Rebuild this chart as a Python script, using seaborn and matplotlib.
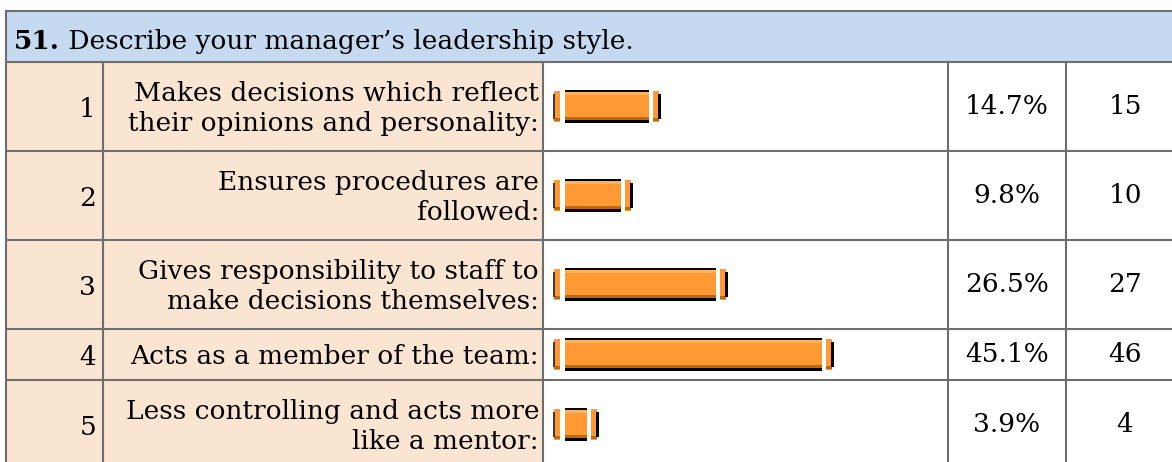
import numpy as np
import pandas as pd
import matplotlib
matplotlib.use("Agg")
import matplotlib.pyplot as plt
import seaborn as sns

question_no = "51."
question = " Describe your manager\u2019s leadership style."
option_nums = ["1", "2", "3", "4", "5"]
option_labels = [
    "Makes decisions which reflect\ntheir opinions and personality:",
    "Ensures procedures are\nfollowed:",
    "Gives responsibility to staff to\nmake decisions themselves:",
    "Acts as a member of the team:",
    "Less controlling and acts more\nlike a mentor:",
]
percents = [14.7, 9.8, 26.5, 45.1, 3.9]
counts = [15, 10, 27, 46, 4]

# layout (pixels)
W, H = 1172, 462
COLS = [6, 103, 543, 948, 1066, 1184]
TOP, HEAD_BOT = 11, 62
PX_PER_PCT = 5.7
BAR_START = 565
BAR_H = 33
FS = 19
FONT = "DejaVu Serif"

PEACH = "#FAE5D3"
BLUE = "#C5D9F1"
GRID = "#6E6E6E"
ORANGE = "#FF9933"
LIGHT = "#FFB25E"
DARK = "#C0660C"

sns.set_style("white")
plt.rcParams["font.family"] = [FONT, "DejaVu Sans"]
plt.rcParams["text.color"] = "black"

# row geometry depends on how many text lines the label has
row_h = [89 if "\n" in lab else 51 for lab in option_labels]
row_top = HEAD_BOT + np.concatenate([[0], np.cumsum(row_h)[:-1]])
row_mid = row_top + np.array(row_h) / 2

fig = plt.figure(figsize=(W / 100, H / 100), dpi=100)
ax = fig.add_axes([0, 0, 1, 1])
ax.set_xlim(0, W)
ax.set_ylim(H, 0)
ax.axis("off")

# header and label columns
ax.add_patch(plt.Rectangle((COLS[0], TOP), COLS[-1] - COLS[0], HEAD_BOT - TOP,
                           facecolor=BLUE, edgecolor="none"))
bottom = row_top[-1] + row_h[-1]
ax.add_patch(plt.Rectangle((COLS[0], HEAD_BOT), COLS[2] - COLS[0], bottom - HEAD_BOT,
                           facecolor=PEACH, edgecolor="none"))

lw = 1.5
ax.plot([COLS[0], COLS[-1]], [TOP, TOP], color=GRID, lw=lw)
ax.plot([COLS[0], COLS[-1]], [HEAD_BOT, HEAD_BOT], color=GRID, lw=lw)
for t in row_top[1:]:
    ax.plot([COLS[0], COLS[-1]], [t, t], color=GRID, lw=lw)
ax.plot([COLS[0], COLS[0]], [TOP, bottom], color=GRID, lw=lw)
for cx in COLS[1:-1]:
    ax.plot([cx, cx], [HEAD_BOT, bottom], color=GRID, lw=lw)

t1 = ax.text(14, 49, question_no, fontsize=FS, fontweight="bold", va="baseline", ha="left")
ax.annotate(question, xy=(1, 0), xycoords=t1, va="bottom", ha="left", fontsize=FS)

for i in range(len(option_nums)):
    m = row_mid[i]
    ax.text(COLS[1] - 7, m + 3, option_nums[i], fontsize=FS, ha="right", va="center")
    ax.text(COLS[2] - 4, m + 2, option_labels[i], fontsize=FS, ha="right", va="center",
            linespacing=1.24)
    ax.text((COLS[3] + COLS[4]) / 2, m, f"{percents[i]:.1f}%", fontsize=FS,
            ha="center", va="center")
    ax.text((COLS[4] + COLS[5]) / 2, m, str(counts[i]), fontsize=FS,
            ha="center", va="center")

# bar axes over the graph column
x0 = COLS[2] / W
bx = fig.add_axes([x0, 0, (COLS[3] - COLS[2]) / W, 1])
df = pd.DataFrame({"pct": percents, "row": row_mid})
sns.barplot(data=df, x="pct", y="row", orient="h", native_scale=True, color=ORANGE,
            saturation=1, linewidth=0, ax=bx)
for p in bx.patches:
    c = p.get_y() + p.get_height() / 2
    p.set_y(c - BAR_H / 2)
    p.set_height(BAR_H)

s = PX_PER_PCT
for pct, c in zip(df["pct"], df["row"]):
    top = c - BAR_H / 2
    bot = c + BAR_H / 2
    bx.barh(top + 1.0, pct, height=2, color="black", lw=0)
    bx.barh(top + 3.5, pct, height=3, color=LIGHT, lw=0)
    bx.barh(bot - 4.5, pct, height=3, color=DARK, lw=0)
    bx.barh(bot - 1.5, pct, height=3, color="black", lw=0)
    # left cap
    bx.barh(c, 6 / s, left=-11 / s, height=BAR_H - 2, color=ORANGE, lw=0)
    bx.barh(c + BAR_H / 2 - 3.5, 6 / s, left=-11 / s, height=3, color=DARK, lw=0)
    bx.barh(c, 2 / s, left=-12 / s, height=BAR_H - 8, color="#3A3A3A", lw=0)
    # right cap
    rx = pct + 4 / s
    bx.barh(c, 6 / s, left=rx, height=BAR_H - 2, color=ORANGE, lw=0)
    bx.barh(c + BAR_H / 2 - 3.5, 6 / s, left=rx, height=3, color=DARK, lw=0)
    bx.barh(c, 3 / s, left=rx + 5 / s, height=BAR_H - 8, color="black", lw=0)

bx.set_xlim(-(BAR_START - COLS[2]) / s, (COLS[3] - BAR_START) / s)
bx.set_ylim(H, 0)
bx.axis("off")
bx.patch.set_visible(False)

fig.savefig("out.png", dpi=100, facecolor="white")
